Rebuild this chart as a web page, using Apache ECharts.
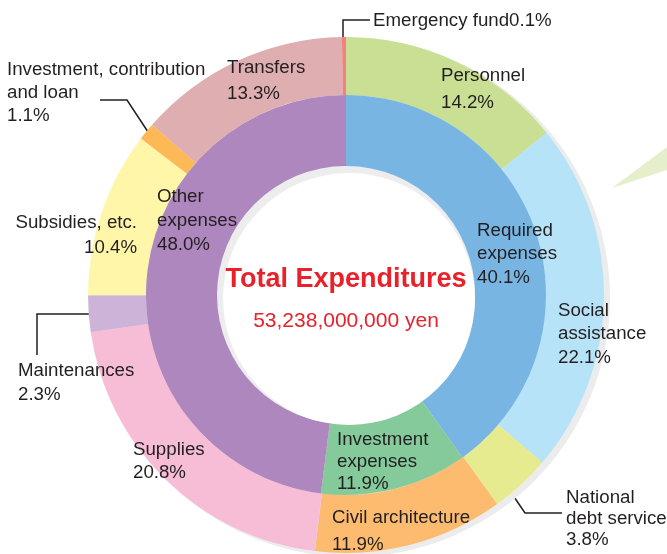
<!DOCTYPE html>
<html><head><meta charset="utf-8">
<script src="https://cdn.jsdelivr.net/npm/echarts@6/dist/echarts.min.js"></script>
<style>html,body{margin:0;padding:0;background:#fff}#c{width:667px;height:554px}</style>
</head><body><div id="c"></div>
<script>
// ---- data ----
const innerNames = ['Required\nexpenses', 'Investment\nexpenses', 'Other\nexpenses'];
const innerValues = [40.1, 11.9, 48.0];
const outerNames = ['Personnel', 'Social\nassistance', 'National\ndebt service', 'Civil architecture', 'Supplies',
  'Maintenances', 'Subsidies, etc.', 'Investment, contribution\nand loan', 'Transfers', 'Emergency fund'];
const outerValues = [14.2, 22.1, 3.8, 11.9, 20.8, 2.3, 10.4, 1.1, 13.3, 0.1];
const outerSeparators = ['\n', '\n', '\n', '\n', '\n', '\n', '\n', '\n', '\n', ''];
const totalTitle = 'Total Expenditures';
const totalAmount = '53,238,000,000 yen';

// ---- styles ----
const innerColors = ['#79b5e3', '#84ca9b', '#ad87bd'];
const outerColors = ['#c8df94', '#b7e3f8', '#e6eb8f', '#fcbb6f', '#f7bdd7', '#cdb3d7', '#fff6a9', '#fdb956', '#dfaeb1', '#f3817d'];
const textColor = '#231f20';
const font = '"Liberation Sans", Arial, sans-serif';

// label placement: [x, top y, align, lineHeight, leader line points]
const innerLabelPos = [
  [477, 219, 'left', 23.5],
  [337, 429, 'left', 22],
  [157, 185, 'left', 24]
];
const outerLabelPos = [
  [441, 62.5, 'left', 27],
  [558, 299, 'left', 23.5],
  [566, 487.5, 'left', 21, [[508, 488], [525, 513], [562, 513]]],
  [332, 504.5, 'left', 27],
  [133, 438.5, 'left', 23],
  [18, 359, 'left', 24, [[102, 314], [37, 314], [37, 355]]],
  [137, 210.5, 'right', 25],
  [7, 58.5, 'left', 23, [[152, 138], [127, 100], [100, 100]]],
  [227, 55, 'left', 26],
  [373, 10, 'left', 22, [[343, 42], [343, 20], [370, 20]]]
];

function buildItems(names, values, colors, pos, seps) {
  return names.map((n, i) => ({
    name: n,
    value: values[i],
    itemStyle: { color: colors[i] },
    label: {
      position: pos[i][4] ? 'outside' : 'inside',
      lineHeight: pos[i][3],
      align: pos[i][2],
      formatter: n + (seps ? seps[i] : '\n') + values[i].toFixed(1) + '%'
    },
    labelLine: { show: !!pos[i][4], smooth: false, lineStyle: { color: textColor, width: 1.5 } }
  }));
}
function layoutFor(pos) {
  return function (p) {
    const q = pos[p.dataIndex];
    const o = { x: q[0], y: q[1], align: q[2], verticalAlign: 'top' };
    if (q[4]) o.labelLinePoints = q[4];
    return o;
  };
}

const C = [346, 295];
const baseLabel = { color: textColor, fontSize: 18.7, fontFamily: font };

const chart = echarts.init(document.getElementById('c'), null, { renderer: 'canvas' });
chart.setOption({
  backgroundColor: '#fff',
  animation: false,
  graphic: [{
    type: 'polygon', silent: true,
    shape: { points: [[612, 188], [667, 147], [667, 170]] },
    style: { fill: '#e6efcc' }
  }],
  series: [
    { // outer drop shadow
      type: 'pie', silent: true, center: [351, 298], radius: [0, 259],
      label: { show: false }, labelLine: { show: false },
      data: [{ value: 1, itemStyle: { color: '#ececec' } }]
    },
    {
      type: 'pie', center: C, radius: [200, 258], startAngle: 90, clockwise: true,
      avoidLabelOverlap: false, silent: true, minAngle: 0.9,
      label: baseLabel,
      labelLayout: layoutFor(outerLabelPos),
      data: buildItems(outerNames, outerValues, outerColors, outerLabelPos, outerSeparators)
    },
    {
      type: 'pie', center: C, radius: [120, 200], startAngle: 90, clockwise: true,
      avoidLabelOverlap: false, silent: true,
      label: baseLabel,
      labelLayout: layoutFor(innerLabelPos),
      data: buildItems(innerNames, innerValues, innerColors, innerLabelPos)
    },
    { // hole rim
      type: 'pie', silent: true, center: C, radius: [0, 129],
      label: { show: false }, labelLine: { show: false },
      data: [{ value: 1, itemStyle: { color: '#ededed' } }]
    },
    { // white centre
      type: 'pie', silent: true, center: [349, 299], radius: [0, 126],
      labelLine: { show: false },
      label: {
        show: true, position: 'center', offset: [-3, 1.5],
        formatter: '{t|' + totalTitle + '}\n{y|' + totalAmount + '}',
        rich: {
          t: { fontSize: 27, fontWeight: 'bold', color: '#e8212b', fontFamily: font, lineHeight: 41 },
          y: { fontSize: 21, color: '#e8212b', fontFamily: font, lineHeight: 41 }
        }
      },
      data: [{ value: 1, itemStyle: { color: '#ffffff' } }]
    }
  ]
});
</script></body></html>
